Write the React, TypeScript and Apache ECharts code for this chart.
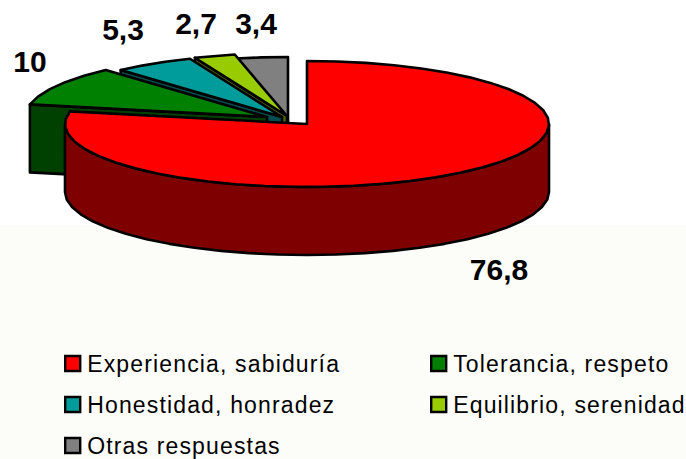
import React, { useEffect, useRef } from "react";
import * as echarts from "echarts";

const categories = ["Experiencia, sabiduría", "Tolerancia, respeto", "Honestidad, honradez", "Equilibrio, serenidad", "Otras respuestas"];
const values = [76.8, 10, 5.3, 2.7, 3.4];
const valueLabels = ["76,8", "10", "5,3", "2,7", "3,4"];
const topColors = ["#ff0000", "#008000", "#009c9c", "#99cc00", "#808080"];
const sideColors = ["#7f0000", "#004000", "#004e4e", "#4d6600", "#404040"];

const RX = 242;
const RY = 63;
const DEPTH = 68;
const STEP = 7;
const FONT = "'Liberation Sans', Arial, sans-serif";
const apexes = [[307, 124], [267, 117], [282, 117], [287, 116], [288, 120]];
const labelCenters = [[499, 269], [30, 61], [123, 29], [196, 23], [256, 23]];
const legendPlaces = [[64, 352], [430, 352], [64, 393], [430, 393], [64, 434]];

const total = values.reduce((a, b) => a + b, 0);
const starts: number[] = [];
values.reduce((acc, v, i) => {
  starts[i] = acc;
  return acc + (v / total) * 360;
}, 0);

function pt(c: number[], deg: number, dy = 0) {
  const r = (deg * Math.PI) / 180;
  return [c[0] + RX * Math.sin(r), c[1] - RY * Math.cos(r) + dy];
}
function arc(c: number[], a0: number, a1: number, dy = 0) {
  const out: number[][] = [];
  const n = Math.max(1, Math.round(Math.abs(a1 - a0) / STEP));
  for (let i = 0; i <= n; i++) out.push(pt(c, a0 + ((a1 - a0) * i) / n, dy));
  return out;
}

function renderSlice(i: number) {
  return () => {
    const c = apexes[i];
    const a0 = starts[i];
    const a1 = a0 + (values[i] / total) * 360;
    const line = { stroke: "#000", lineWidth: 2.6, lineJoin: "round" };
    const children: any[] = [];
    if (i === 0) {
      const wall = [...arc(c, 90, 270), ...arc(c, 270, 90, DEPTH)];
      children.push({ type: "polygon", shape: { points: wall }, style: { fill: sideColors[i], ...line } });
    } else {
      const s = pt(c, a0);
      const face = [c, s, [s[0], s[1] + DEPTH], [c[0], c[1] + DEPTH]];
      children.push({ type: "polygon", shape: { points: face }, style: { fill: sideColors[i], ...line } });
    }
    children.push({ type: "polygon", shape: { points: [c, ...arc(c, a0, a1)] }, style: { fill: topColors[i], ...line } });
    children.push({
      type: "text",
      style: {
        text: valueLabels[i],
        x: labelCenters[i][0],
        y: labelCenters[i][1],
        align: "center",
        verticalAlign: "middle",
        fontFamily: FONT,
        fontSize: 30,
        fontWeight: "bold",
        fill: "#000",
      },
    });
    return { type: "group", children };
  };
}

// Painted back to front: the grey slice first, the large red slice last.
const paintOrder = [4, 3, 2, 1, 0];

export default function App() {
  const ref = useRef<HTMLDivElement>(null);
  useEffect(() => {
    const chart = echarts.init(ref.current!, undefined, { renderer: "svg" });
    chart.setOption({
      animation: false,
      backgroundColor: "#ffffff",
      graphic: [
        { type: "rect", z: -10, silent: true, shape: { x: 0, y: 225, width: 686, height: 234 }, style: { fill: "#fcfdf8" } },
      ],
      legend: categories.map((name, i) => ({
        data: [name],
        left: legendPlaces[i][0],
        top: legendPlaces[i][1],
        padding: 0,
        icon: "rect",
        itemWidth: 15,
        itemHeight: 15,
        itemGap: 0,
        selectedMode: false,
        itemStyle: { borderColor: "#000", borderWidth: 2.4 },
        textStyle: { fontFamily: FONT, fontSize: 23, color: "#000", padding: [2, 0, 0, 2] },
      })),
      series: paintOrder.map((i) => ({
        type: "custom",
        name: categories[i],
        coordinateSystem: "none",
        silent: true,
        itemStyle: { color: topColors[i] },
        data: [values[i]],
        renderItem: renderSlice(i),
      })),
    });
    return () => chart.dispose();
  }, []);
  return (
    <>
      <style>{`html,body{margin:0;padding:0}
.pie3d text{letter-spacing:1.15px}
.pie3d text[style*="bold"]{letter-spacing:0}`}</style>
      <div ref={ref} className="pie3d" style={{ width: 686, height: 459 }} />
    </>
  );
}
